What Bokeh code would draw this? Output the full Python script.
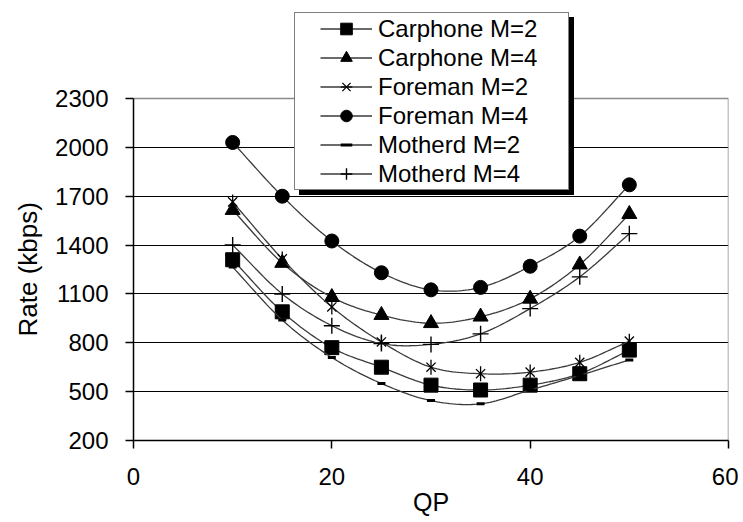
import math
from bokeh.plotting import figure
from bokeh.models import Legend, LegendItem, FixedTicker, Range1d, Title
from bokeh.embed import file_html
from bokeh.resources import INLINE

# ---- data ----
qp = [10, 15, 20, 25, 30, 35, 40, 45, 50]
carphone_m2 = [1310, 990, 770, 650, 540, 510, 540, 610, 755]
carphone_m4 = [1615, 1290, 1080, 970, 920, 960, 1070, 1280, 1590]
foreman_m2 = [1665, 1315, 1020, 805, 650, 610, 620, 680, 810]
foreman_m4 = [2030, 1700, 1425, 1230, 1125, 1140, 1270, 1455, 1770]
motherd_m2 = [1265, 940, 710, 550, 445, 425, 510, 600, 695]
motherd_m4 = [1400, 1100, 905, 795, 790, 855, 1010, 1205, 1470]
labels = ["Carphone M=2", "Carphone M=4", "Foreman M=2",
          "Foreman M=4", "Motherd M=2", "Motherd M=4"]
x_ticks = [0, 20, 40, 60]
y_ticks = [200, 500, 800, 1100, 1400, 1700, 2000, 2300]
grid_ticks = [500, 800, 1100, 1400, 1700, 2000]


def smooth(xs, ys, n=16):
    """Catmull-Rom curve through the data points (Excel-like smoothed line)."""
    px = [2 * xs[0] - xs[1]] + list(xs) + [2 * xs[-1] - xs[-2]]
    py = [2 * ys[0] - ys[1]] + list(ys) + [2 * ys[-1] - ys[-2]]
    ox, oy = [], []
    for i in range(1, len(px) - 2):
        for k in range(n):
            t = k / n
            t2, t3 = t * t, t * t * t
            for src, dst in ((px, ox), (py, oy)):
                p0, p1, p2, p3 = src[i - 1], src[i], src[i + 1], src[i + 2]
                dst.append(0.5 * ((2 * p1) + (-p0 + p2) * t +
                                  (2 * p0 - 5 * p1 + 4 * p2 - p3) * t2 +
                                  (-p0 + 3 * p1 - 3 * p2 + p3) * t3))
    ox.append(xs[-1])
    oy.append(ys[-1])
    return ox, oy


FONT = "Liberation Sans"

# plot area: axes 342 px tall for 200..2300; the frame is extended upward by
# 90 px so the legend (which sits above the axes box) is not clipped.
Y0, Y1 = y_ticks[0], y_ticks[-1]
AX_PX, EXTRA_PX = 342, 90
y_top = Y1 + (Y1 - Y0) * EXTRA_PX / AX_PX

p = figure(width=738, height=522, x_range=Range1d(x_ticks[0], x_ticks[-1]),
           y_range=Range1d(Y0, y_top),
           output_backend="svg", toolbar_location=None,
           min_border_left=133, min_border_right=10, min_border_top=8, min_border_bottom=82,
           background_fill_color="white", border_fill_color="white")

p.outline_line_color = None
p.xgrid.visible = False
p.ygrid.ticker = FixedTicker(ticks=grid_ticks)
p.ygrid.grid_line_color = "black"
p.ygrid.grid_line_width = 1.2

# gray border on top and right of the axes box
p.line([x_ticks[0], x_ticks[-1], x_ticks[-1]], [Y1, Y1, Y0],
       line_color="#8c8c8c", line_width=1.5)

p.xaxis.ticker = FixedTicker(ticks=x_ticks)
p.yaxis.ticker = FixedTicker(ticks=y_ticks)
p.yaxis.bounds = (Y0, Y1)
for ax in (p.xaxis[0], p.yaxis[0]):
    ax.axis_line_color = "black"
    ax.axis_line_width = 1.5
    ax.major_tick_line_color = "black"
    ax.major_tick_line_width = 1.5
    ax.major_tick_out = 8
    ax.major_tick_in = 0
    ax.minor_tick_out = 0
    ax.minor_tick_in = 0
    ax.major_label_text_font = FONT
    ax.major_label_text_font_size = "24px"
    ax.major_label_text_color = "black"
    ax.axis_label_text_font = FONT
    ax.axis_label_text_font_style = "normal"
    ax.axis_label_text_color = "black"

p.xaxis.axis_label = "QP"
p.xaxis.axis_label_text_font_size = "25px"
p.xaxis.major_label_standoff = 19
p.xaxis.axis_label_standoff = 0
p.yaxis.major_label_standoff = 17

# y-axis title, centred on the 200..2300 axis (not on the extended frame)
ytitle = Title(text="Rate (kbps)", align="left", offset=104, standoff=20,
               text_font=FONT, text_font_size="26px", text_font_style="normal",
               text_color="black")
p.add_layout(ytitle, "left")

series = [carphone_m2, carphone_m4, foreman_m2, foreman_m4, motherd_m2, motherd_m4]
# each marker is a list of (bokeh marker, size, line width, angle) parts
marker_parts = [
    [("square", 14, 1, 0)],
    [("triangle", 15, 1, 0)],
    [("x", 13, 1.3, 0), ("dash", 15, 1.3, math.pi / 2)],
    [("circle", 14, 1, 0)],
    [("dash", 8, 3, 0)],
    [("cross", 16, 1.4, 0)],
]

LINE_COLOR = "#3a3a3a"
items = []
for lab, ys, parts in zip(labels, series, marker_parts):
    sx, sy = smooth(qp, ys)
    rends = [p.line(sx, sy, line_color=LINE_COLOR, line_width=1.3)]
    for mk, sz, lw, ang in parts:
        rends.append(p.scatter(qp, ys, marker=mk, size=sz, angle=ang,
                               fill_color="black", line_color="black", line_width=lw))
    items.append(LegendItem(label=lab, renderers=rends))

# legend frame (shadow + white box), drawn as single-item legends
dummy = p.line(x=[], y=[], line_alpha=0)


def box_legend(loc, fill):
    return Legend(items=[LegendItem(label=" ", renderers=[dummy])], location=loc,
                  padding=0, spacing=0, margin=0, label_standoff=0,
                  glyph_width=260, glyph_height=176, label_height=176, label_width=13,
                  label_text_alpha=0, label_text_font_size="24px",
                  background_fill_color=fill, background_fill_alpha=1,
                  border_line_color="black", border_line_width=1.5)


p.add_layout(box_legend((166, 245), "black"), "center")
p.add_layout(box_legend((161, 250), "white"), "center")

legend = Legend(items=items, location=(187, 252), orientation="vertical",
                padding=0, spacing=0, margin=0,
                glyph_width=52, glyph_height=29, label_height=29, label_standoff=6,
                label_text_font=FONT, label_text_font_size="24px", label_text_color="black",
                background_fill_alpha=0, border_line_alpha=0)
p.add_layout(legend, "center")

open("out.html", "w").write(file_html(p, INLINE))
